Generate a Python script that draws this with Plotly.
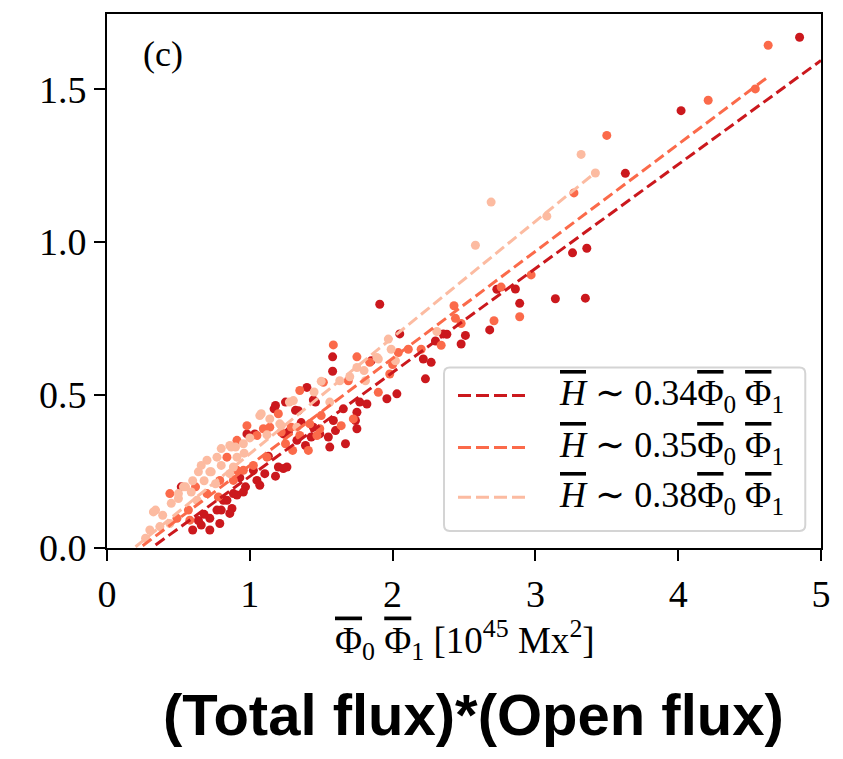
import plotly.graph_objects as go

# Helicity vs. product of total and open flux, three samples
dark_x = [4.85, 4.02, 3.63, 3.36, 3.26, 3.35, 3.14, 2.89, 2.86, 2.73, 2.68, 2.51, 2.48, 2.38,
          2.30, 1.91, 2.215, 2.27, 2.23, 2.05, 2.355, 2.03, 1.96, 1.85, 1.58, 1.58, 1.40, 1.445,
          1.46, 1.17, 1.18, 1.25, 1.32, 1.34, 1.77, 1.82, 1.75, 1.655, 1.74, 1.585, 1.75, 1.60,
          1.55, 1.56, 1.67, 1.235, 1.33, 1.445, 1.43, 1.39, 1.49, 1.27, 0.98, 1.035, 1.20, 1.26,
          1.18, 1.105, 1.05, 1.025, 0.97, 0.91, 0.84, 0.875, 0.80, 0.885, 0.86, 0.815, 0.77, 0.72,
          0.66, 0.60, 0.79, 0.72, 0.52, 0.955, 1.07, 1.235, 0.68, 0.93, 1.13, 1.36, 0.64]
dark_y = [1.67, 1.43, 1.225, 0.98, 0.965, 0.817, 0.815, 0.80, 0.847, 0.846, 0.713, 0.695, 0.667, 0.699,
          0.677, 0.797, 0.618, 0.607, 0.553, 0.70, 0.70, 0.504, 0.488, 0.612, 0.625, 0.578, 0.525, 0.484,
          0.477, 0.455, 0.466, 0.477, 0.45, 0.449, 0.477, 0.471, 0.444, 0.455, 0.417, 0.417, 0.39, 0.384,
          0.363, 0.33, 0.341, 0.373, 0.352, 0.395, 0.363, 0.335, 0.373, 0.379, 0.373, 0.373, 0.265, 0.265,
          0.235, 0.243, 0.221, 0.254, 0.20, 0.173, 0.156, 0.129, 0.124, 0.178, 0.113, 0.156, 0.124, 0.097,
          0.075, 0.059, 0.08, 0.059, 0.20, 0.183, 0.205, 0.26, 0.11, 0.23, 0.30, 0.41, 0.09]

mid_x = [4.63, 4.21, 4.54, 3.50, 3.27, 2.97, 2.76, 2.89, 2.71, 2.43, 2.44, 2.48, 2.34, 2.04,
         2.11, 2.20, 1.585, 1.75, 1.84, 2.00, 1.98, 1.90, 1.69, 1.515, 1.35, 1.725, 1.64, 1.49,
         1.29, 1.25, 1.41, 1.47, 1.30, 1.22, 0.98, 1.095, 1.05, 1.14, 1.20, 1.35, 1.42, 0.91,
         1.025, 1.12, 0.84, 0.44, 0.49, 0.58, 0.78, 0.91, 0.57, 0.70, 0.79, 0.885, 0.955, 1.50, 0.62]
mid_y = [1.644, 1.464, 1.501, 1.349, 1.161, 0.893, 0.853, 0.756, 0.743, 0.792, 0.751, 0.734, 0.663, 0.639,
         0.65, 0.65, 0.664, 0.625, 0.607, 0.60, 0.569, 0.509, 0.547, 0.542, 0.515, 0.422, 0.40, 0.39,
         0.395, 0.341, 0.319, 0.368, 0.319, 0.379, 0.40, 0.39, 0.368, 0.395, 0.439, 0.368, 0.406, 0.254,
         0.27, 0.297, 0.297, 0.178, 0.097, 0.091, 0.167, 0.352, 0.124, 0.178, 0.221, 0.221, 0.254, 0.433, 0.20]

light_x = [3.32, 3.42, 3.08, 2.69, 2.58, 2.31, 1.97, 1.99, 1.89, 2.02, 1.90, 1.80, 1.81, 1.63,
           1.50, 1.56, 1.305, 1.277, 1.33, 1.07, 1.08, 1.14, 1.21, 1.22, 0.955, 0.90, 0.87, 0.80,
           0.86, 0.77, 0.91, 0.885, 0.80, 0.70, 0.73, 0.64, 0.72, 0.86, 0.55, 0.50, 0.59, 0.63,
           0.34, 0.39, 0.44, 0.30, 0.27, 0.325, 0.37, 0.45, 0.50, 0.535, 0.68, 0.76, 1.00, 1.12,
           1.45, 1.70, 1.75, 0.96, 0.60, 0.66]
light_y = [1.287, 1.226, 1.085, 1.131, 0.990, 0.708, 0.683, 0.650, 0.623, 0.612, 0.618, 0.58, 0.547, 0.547,
           0.545, 0.477, 0.482, 0.477, 0.395, 0.433, 0.439, 0.422, 0.406, 0.40, 0.341, 0.33, 0.33, 0.325,
           0.335, 0.297, 0.297, 0.265, 0.27, 0.287, 0.249, 0.249, 0.249, 0.243, 0.20, 0.162, 0.183, 0.156,
           0.124, 0.107, 0.08, 0.059, 0.032, 0.118, 0.07, 0.146, 0.178, 0.20, 0.22, 0.21, 0.36, 0.37,
           0.51, 0.56, 0.59, 0.31, 0.22, 0.27]

# Linear fits: slope, intercept, x-extent
fit_slopes = [0.34, 0.35, 0.38]
fit_intercepts = [-0.106, -0.08, -0.072]
fit_ranges = [(0.34, 5.0), (0.25, 4.63), (0.2, 3.43)]
fit_labels = ["0.34", "0.35", "0.38"]

colors = ["#cb181d", "#fb6a4a", "#fcbba1"]
series = [(dark_x, dark_y), (mid_x, mid_y), (light_x, light_y)]

SERIF = "Liberation Serif, DejaVu Serif, serif"


def bar(s):
    # overlined (time-averaged) quantity
    return f"<span style=\"text-decoration:overline\">{s}</span>"


PHI0 = bar("\u03a6") + "<sub>0</sub>"
PHI1 = bar("\u03a6") + "<sub>1</sub>"
HBAR = bar("<i>H</i>")

fig = go.Figure()

for (xs, ys), c in zip(series, colors):
    fig.add_trace(go.Scatter(x=xs, y=ys, mode="markers",
                             marker=dict(size=9, color=c, line=dict(width=0)),
                             showlegend=False, hoverinfo="skip"))

for a, b, (x0, x1), c in zip(fit_slopes, fit_intercepts, fit_ranges, colors):
    fig.add_trace(go.Scatter(x=[x0, x1], y=[a * x0 + b, a * x1 + b], mode="lines",
                             line=dict(color=c, width=3, dash="11px,5px"),
                             showlegend=False, hoverinfo="skip"))

axis_common = dict(showline=True, linecolor="black", linewidth=2, mirror=True,
                   ticks="outside", ticklen=11, tickwidth=2, tickcolor="black",
                   showgrid=False, zeroline=False,
                   tickfont=dict(family=SERIF, size=38, color="black"))

fig.update_xaxes(range=[0, 5], tickvals=[0, 1, 2, 3, 4, 5], **axis_common)
fig.update_yaxes(range=[0, 1.746], tickvals=[0, 0.5, 1.0, 1.5], tickformat=".1f", **axis_common)

# Legend drawn as a framed box with dashed samples
bx0, bx1, by0, by1 = 0.472, 0.978, 0.032, 0.338
rx, ry = 0.008, 0.011
box_path = (f"M{bx0 + rx},{by0} L{bx1 - rx},{by0} Q{bx1},{by0} {bx1},{by0 + ry} "
            f"L{bx1},{by1 - ry} Q{bx1},{by1} {bx1 - rx},{by1} "
            f"L{bx0 + rx},{by1} Q{bx0},{by1} {bx0},{by1 - ry} "
            f"L{bx0},{by0 + ry} Q{bx0},{by0} {bx0 + rx},{by0} Z")
shapes = [dict(type="path", xref="paper", yref="paper", path=box_path,
               line=dict(color="#d4d4d4", width=2), fillcolor="white", layer="above")]
annotations = []
entry_y = [0.2854, 0.1884, 0.0951]
for ey, c, lab in zip(entry_y, colors, fit_labels):
    shapes.append(dict(type="line", xref="paper", yref="paper", x0=0.4916, x1=0.5896,
                       y0=ey, y1=ey, line=dict(color=c, width=3, dash="13px,5px"), layer="above"))
    annotations.append(dict(xref="paper", yref="paper", x=0.630, y=ey, xanchor="left",
                            yanchor="middle", showarrow=False,
                            text=f"{HBAR} \u223c {lab}{PHI0} {PHI1}",
                            font=dict(family=SERIF, size=36, color="black")))

annotations += [
    dict(xref="paper", yref="paper", x=0.078, y=0.925, xanchor="center", yanchor="middle",
         showarrow=False, text="(c)", font=dict(family=SERIF, size=36, color="black")),
    dict(xref="paper", yref="paper", x=0.5014, y=-0.1716, xanchor="center", yanchor="middle",
         showarrow=False,
         text=f"{PHI0} {PHI1} [10<sup>45</sup> Mx<sup>2</sup>]",
         font=dict(family=SERIF, size=37, color="black")),
    dict(xref="paper", yref="paper", x=0.513, y=-0.3116, xanchor="center", yanchor="middle",
         showarrow=False, text="<b>(Total flux)*(Open flux)</b>",
         font=dict(family="Liberation Sans, Arial, sans-serif", size=58, color="black")),
]

fig.update_layout(width=843, height=759, margin=dict(l=107, r=22, t=12, b=211),
                  paper_bgcolor="white", plot_bgcolor="white",
                  shapes=shapes, annotations=annotations, showlegend=False)

fig.write_html("out.html")
